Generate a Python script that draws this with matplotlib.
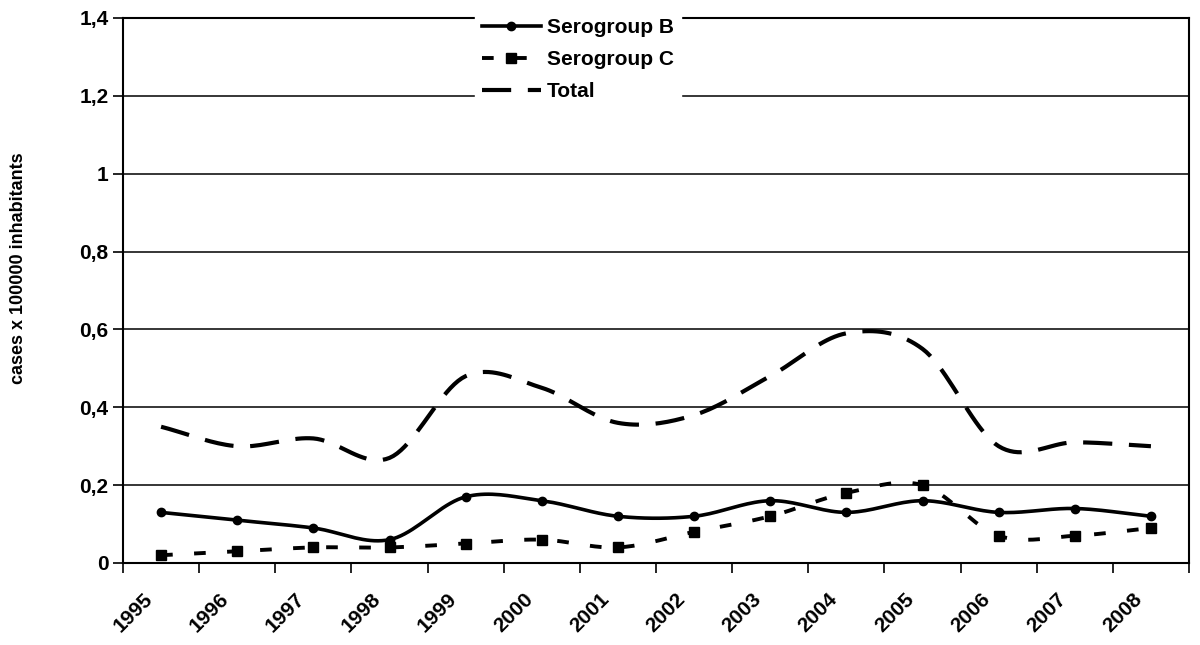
import matplotlib
matplotlib.use('Agg')

import matplotlib.pyplot as plt
import matplotlib.transforms as mtransforms
import numpy as np
from matplotlib.ticker import FuncFormatter

plt.rcParams['font.family'] = ['Liberation Sans', 'DejaVu Sans']
plt.rcParams['font.weight'] = 'bold'

years = ['1995', '1996', '1997', '1998', '1999', '2000', '2001',
         '2002', '2003', '2004', '2005', '2006', '2007', '2008']
serogroup_b = [0.13, 0.11, 0.09, 0.06, 0.17, 0.16, 0.12,
               0.12, 0.16, 0.13, 0.16, 0.13, 0.14, 0.12]
serogroup_c = [0.02, 0.03, 0.04, 0.04, 0.05, 0.06, 0.04,
               0.08, 0.12, 0.18, 0.20, 0.07, 0.07, 0.09]
total = [0.35, 0.30, 0.32, 0.27, 0.48, 0.45, 0.36,
         0.38, 0.48, 0.59, 0.55, 0.30, 0.31, 0.30]

N_SEG = 20  # точек на сегмент сглаживания


def smooth(x, y, n=N_SEG):
    # сглаживание как в Excel (Catmull-Rom)
    x = np.asarray(x, float)
    y = np.asarray(y, float)
    px = np.concatenate([[2 * x[0] - x[1]], x, [2 * x[-1] - x[-2]]])
    py = np.concatenate([[2 * y[0] - y[1]], y, [2 * y[-1] - y[-2]]])
    xs, ys = [], []
    t = np.linspace(0, 1, n, endpoint=False)
    for i in range(1, len(px) - 2):
        for p, out in ((px, xs), (py, ys)):
            p0, p1, p2, p3 = p[i - 1], p[i], p[i + 1], p[i + 2]
            out.extend(0.5 * (2 * p1 + (-p0 + p2) * t
                              + (2 * p0 - 5 * p1 + 4 * p2 - p3) * t ** 2
                              + (-p0 + 3 * p1 - 3 * p2 + p3) * t ** 3))
    xs.append(x[-1])
    ys.append(y[-1])
    return np.array(xs), np.array(ys)


x = np.arange(len(years)) + 0.5
marks = list(range(0, len(years) * N_SEG, N_SEG))

fig = plt.figure(figsize=(12, 6.45), dpi=100)
ax = fig.add_axes([123 / 1200, 1 - 563 / 645, (1189 - 123) / 1200, (563 - 18) / 645])

sx, sy = smooth(x, serogroup_b)
ax.plot(sx, sy, color='black', lw=2.6, marker='o', markersize=6,
        markevery=marks, label='Serogroup B', zorder=4)
sx, sy = smooth(x, serogroup_c)
ax.plot(sx, sy, color='black', lw=2.8, dashes=(3, 5.5), marker='s', markersize=6.5,
        markevery=marks, label='Serogroup C', zorder=3)
sx, sy = smooth(x, total)
ax.plot(sx, sy, color='black', lw=3.0, dashes=(7, 4), label='Total', zorder=3)

ax.set_xlim(0, len(years))
ax.set_ylim(0, 1.4)
ax.set_yticks(np.arange(0, 1.41, 0.2))
ax.yaxis.set_major_formatter(FuncFormatter(lambda v, p: f'{v:.1f}'.rstrip('0').rstrip('.').replace('.', ',')))
ax.set_xticks(np.arange(len(years) + 1))
ax.set_xticklabels(years + [''], rotation=45, ha='center')
ax.tick_params(axis='both', labelsize=15, length=7, width=1.2, color='black')
ax.tick_params(axis='x', pad=12)
shift = mtransforms.ScaledTranslation(10 / 100, 0, fig.dpi_scale_trans)
for lbl in ax.get_xticklabels():
    lbl.set_transform(lbl.get_transform() + shift)
ax.grid(axis='y', color='black', lw=1.1)
ax.set_axisbelow(True)
for s in ax.spines.values():
    s.set_linewidth(1.5)
ax.set_ylabel('cases x 100000 inhabitants', fontsize=13, fontweight='bold')
ax.yaxis.set_label_coords(-(123 - 27) / 1066, (563 - 268) / 545)

leg = ax.legend(loc='upper center', bbox_to_anchor=(578 / 1200, 1 - 11 / 645),
                bbox_transform=fig.transFigure, fontsize=15, frameon=True,
                handlelength=2.8, handletextpad=0.3, labelspacing=0.62,
                borderaxespad=0, borderpad=0.35, fancybox=False)
leg.get_frame().set_facecolor('white')
leg.get_frame().set_edgecolor('white')
leg.get_frame().set_alpha(1)

fig.savefig('out.png', dpi=100)
